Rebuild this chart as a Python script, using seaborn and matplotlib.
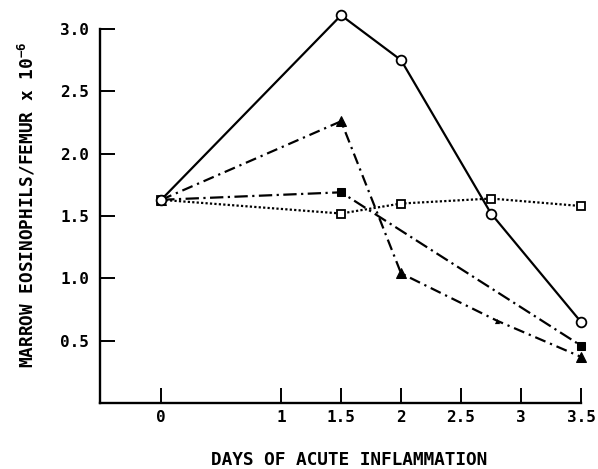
import matplotlib
matplotlib.use("Agg")
import matplotlib.pyplot as plt
import seaborn as sns
import pandas as pd

# ---- data ----
x_ticks = [0, 1, 1.5, 2, 2.5, 3, 3.5]
x_tick_labels = ["0", "1", "1.5", "2", "2.5", "3", "3.5"]
y_ticks = [0.5, 1.0, 1.5, 2.0, 2.5, 3.0]
y_tick_labels = ["0.5", "1.0", "1.5", "2.0", "2.5", "3.0"]

circle_days = [0, 1.5, 2, 2.75, 3.5]
circle_vals = [1.63, 3.11, 2.75, 1.52, 0.65]

triangle_days = [0, 1.5, 2, 2.8, 3.5]
triangle_vals = [1.63, 2.26, 1.04, 0.66, 0.37]

filled_sq_days = [0, 1.5, 3.5]
filled_sq_vals = [1.63, 1.69, 0.46]

open_sq_days = [0, 1.5, 2, 2.75, 3.5]
open_sq_vals = [1.63, 1.52, 1.60, 1.64, 1.58]

x_label = "DAYS OF ACUTE INFLAMMATION"
y_label = "MARROW EOSINOPHILS/FEMUR x 10$^{-6}$"

# ---- style ----
sns.set_theme(style="white")
plt.rcParams["font.family"] = ["DejaVu Sans Mono", "DejaVu Sans"]
plt.rcParams["mathtext.fontset"] = "custom"
plt.rcParams["mathtext.rm"] = "DejaVu Sans Mono:bold"
plt.rcParams["mathtext.it"] = "DejaVu Sans Mono:bold"
plt.rcParams["mathtext.bf"] = "DejaVu Sans Mono:bold"

W, H = 598, 469
fig = plt.figure(figsize=(W / 100, H / 100), dpi=100)
ax_left, ax_right, ax_top, ax_bottom = 100, 581, 29, 403
ax = fig.add_axes([ax_left / W, (H - ax_bottom) / H,
                   (ax_right - ax_left) / W, (ax_bottom - ax_top) / H])

lw = 1.6

# open squares, dotted
sns.lineplot(x=open_sq_days, y=open_sq_vals, ax=ax, color="black", lw=lw,
             linestyle=(0, (1, 1)), marker="s", markersize=5.5,
             markerfacecolor="white", markeredgecolor="black",
             markeredgewidth=1.3, zorder=3, clip_on=False)

# filled squares, dash-dot
sns.lineplot(x=filled_sq_days, y=filled_sq_vals, ax=ax, color="black", lw=lw,
             linestyle=(0, (6, 2, 1, 2)), marker="s", markersize=5.5,
             markerfacecolor="black", markeredgecolor="black", zorder=3,
             clip_on=False)

# triangles, dash-dot
sns.lineplot(x=triangle_days, y=triangle_vals, ax=ax, color="black", lw=lw,
             linestyle=(0, (5, 2.2, 1, 2.2)), marker="^", markersize=6.5,
             markerfacecolor="black", markeredgecolor="black",
             markevery=[0, 1, 2, 4], zorder=3, clip_on=False)
sns.scatterplot(x=triangle_days[3:4], y=triangle_vals[3:4], ax=ax,
                color="black", marker="^", s=14, linewidth=0, zorder=4,
                clip_on=False)

# open circles, solid
sns.lineplot(x=circle_days, y=circle_vals, ax=ax, color="black", lw=lw,
             linestyle="-", marker="o", markersize=7,
             markerfacecolor="white", markeredgecolor="black",
             markeredgewidth=1.3, zorder=5, clip_on=False)

ax.set_xlim(-0.51, 3.5)
ax.set_ylim(0, 3.0)
ax.set_xticks(x_ticks)
ax.set_xticklabels(x_tick_labels, fontweight="bold")
ax.set_yticks(y_ticks)
ax.set_yticklabels(y_tick_labels, fontweight="bold")

for s in ["top", "right"]:
    ax.spines[s].set_visible(False)
for s in ["left", "bottom"]:
    ax.spines[s].set_linewidth(1.7)
    ax.spines[s].set_color("black")

ax.tick_params(axis="both", which="major", direction="in", length=11,
               width=1.4, colors="black", labelsize=11.5,
               bottom=True, left=True, top=False, right=False)
ax.tick_params(axis="x", pad=5)
ax.tick_params(axis="y", pad=8)

ax.set_xlabel(x_label, fontsize=12.8, color="black", fontweight="bold")
ax.set_ylabel(y_label, fontsize=12.8, color="black", fontweight="bold")
ax.xaxis.label.set_va("center")
ax.yaxis.label.set_va("center")
ax.xaxis.set_label_coords((349 - ax_left) / (ax_right - ax_left),
                          (ax_bottom - 460) / (ax_bottom - ax_top))
ax.yaxis.set_label_coords((27 - ax_left) / (ax_right - ax_left),
                          (ax_bottom - 205) / (ax_bottom - ax_top))

fig.savefig("out.png", dpi=100, facecolor="white")
